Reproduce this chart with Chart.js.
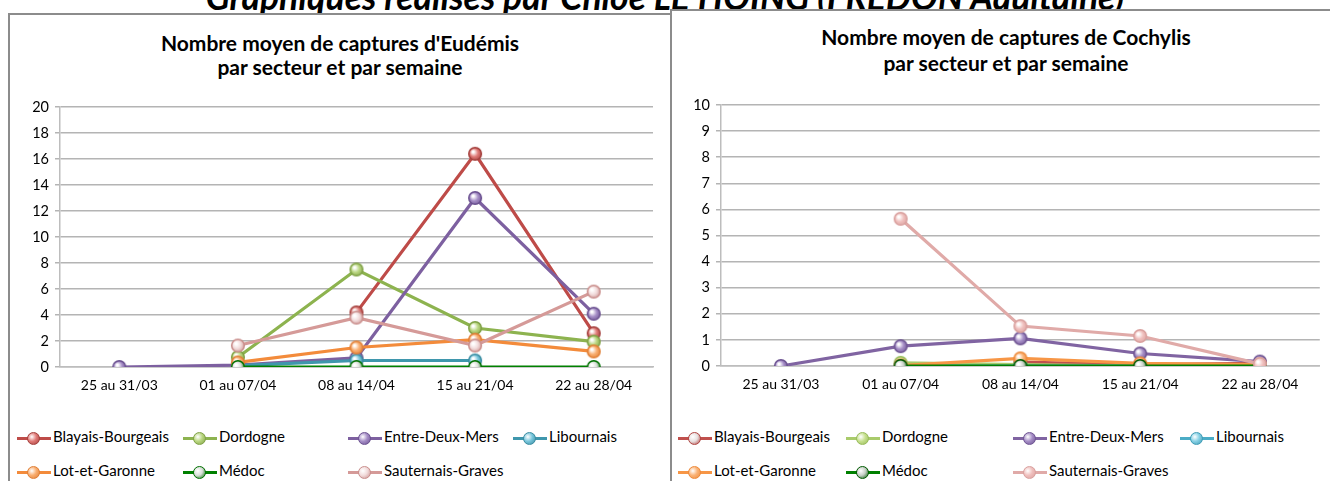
<!DOCTYPE html>
<html>
<head>
<meta charset="utf-8">
<script src="https://cdn.jsdelivr.net/npm/chart.js@4.4.0/dist/chart.umd.min.js"></script>
<style>
  html, body { margin: 0; padding: 0; background: #fff; }
  body { width: 1330px; height: 481px; position: relative; overflow: hidden; font-family: Lato, "Open Sans", sans-serif; color: #000; }
  #top { position: absolute; left: 0; width: 1330px; top: -25px; line-height: 35px; text-align: center; font: italic bold 35.5px Lato, sans-serif; white-space: nowrap; }
  .panel { position: absolute; border: 2px solid #8c8c8c; background: #fff; height: 480px; }
  .panel canvas { position: absolute; left: 0; top: 0; }
  .ttl { position: absolute; transform: translate(-50%, -50%); font: bold 21px Lato, sans-serif; white-space: nowrap; }
  .leg { position: absolute; height: 16px; font-size: 15px; white-space: nowrap; }
  .leg .ln { position: absolute; left: 0; top: 7px; width: 34px; height: 3px; }
  .leg .dot { position: absolute; left: 10px; top: 1.5px; width: 11px; height: 11px; border-radius: 50%; border: 1.5px solid; box-sizing: content-box; }
  .leg .tx { position: absolute; left: 36px; top: -3px; }
</style>
</head>
<body>
<div id="top">Graphiques réalisés par Chloé LE HOING (FREDON Aquitaine)</div>
<div class="panel" id="p1" style="left:8px; top:13px; width:664px;">
  <div class="ttl" style="left:330px; top:27px;">Nombre moyen de captures d'Eudémis</div>
  <div class="ttl" style="left:330px; top:51px;">par secteur et par semaine</div>
  <canvas id="c1"></canvas>
</div>
<div class="panel" id="p2" style="left:670px; top:9px; width:662px;">
  <div class="ttl" style="left:334px; top:25px;">Nombre moyen de captures de Cochylis</div>
  <div class="ttl" style="left:334px; top:51px;">par secteur et par semaine</div>
  <canvas id="c2"></canvas>
</div>
<script>
// ---- data ----
const weeks = ['25 au 31/03', '01 au 07/04', '08 au 14/04', '15 au 21/04', '22 au 28/04'];
const sectors = ['Blayais-Bourgeais', 'Dordogne', 'Entre-Deux-Mers', 'Libournais', 'Lot-et-Garonne', 'Médoc', 'Sauternais-Graves'];

// Eudémis
const eudBlayais = [null, null, 4.2, 16.4, 2.6];
const eudDordogne = [null, 0.75, 7.5, 3.0, 1.95];
const eudEntreDeuxMers = [0, 0.15, 0.7, 13.0, 4.1];
const eudLibournais = [null, 0.1, 0.5, 0.5, null];
const eudLotEtGaronne = [null, 0.35, 1.5, 2.1, 1.2];
const eudMedoc = [null, 0, 0, 0, 0];
const eudSauternais = [null, 1.65, 3.8, 1.65, 5.8];

// Cochylis
const cocBlayais = [null, null, 0.15, 0.05, 0.1];
const cocDordogne = [null, 0.12, 0.05, 0, 0];
const cocEntreDeuxMers = [0, 0.76, 1.06, 0.48, 0.17];
const cocLibournais = [null, 0, 0, 0, null];
const cocLotEtGaronne = [null, 0.02, 0.29, 0.1, 0.05];
const cocMedoc = [null, 0, 0, 0, 0];
const cocSauternais = [null, 5.64, 1.53, 1.15, 0.08];

const eudTicks = [0, 2, 4, 6, 8, 10, 12, 14, 16, 18, 20];
const cocTicks = [0, 1, 2, 3, 4, 5, 6, 7, 8, 9, 10];

// ---- styles (Excel 2007 palette) ----
// [line, marker border, marker fill]
const styleEud = [
  ['#BE4B48', '#A33F3C', '#E07A77'],
  ['#8DB34F', '#7FA146', '#B9D680'],
  ['#7D60A0', '#6B5190', '#A58DC6'],
  ['#3F97AD', '#3A8CA1', '#78C6DC'],
  ['#F38B3B', '#E07F36', '#F9AE70'],
  ['#008000', '#007000', '#D8DED8'],
  ['#D59A98', '#C98E8C', '#F2DCDC'],
];
const styleCoc = [
  ['#C0504D', '#B04542', '#E8E0E0'],
  ['#A9CB6B', '#98BB5A', '#C6E08E'],
  ['#8064A2', '#6E5492', '#A58DC6'],
  ['#4BACC6', '#3F9CB6', '#86D0E4'],
  ['#F79646', '#EE8A3A', '#FAB377'],
  ['#008000', '#005a00', '#C8D0C8'],
  ['#E0AAA8', '#D9A09E', '#F0C0BE'],
];

function makeMarker(fill, stroke) {
  const c = document.createElement('canvas');
  c.width = 16; c.height = 16;
  const g = c.getContext('2d');
  const grad = g.createRadialGradient(6, 6, 1, 8, 8, 8);
  grad.addColorStop(0, '#ffffff');
  grad.addColorStop(0.45, fill);
  grad.addColorStop(1, stroke);
  g.beginPath();
  g.arc(8, 8, 6.3, 0, Math.PI * 2);
  g.fillStyle = grad;
  g.fill();
  g.lineWidth = 1.5;
  g.strokeStyle = stroke;
  g.stroke();
  return c;
}

function buildDatasets(series, styles) {
  return series.map((data, i) => ({
    label: sectors[i],
    data: data,
    borderColor: styles[i][0],
    borderWidth: 3.2,
    pointStyle: makeMarker(styles[i][2], styles[i][1]),
    pointRadius: 7,
    order: sectors.length - i, // later series drawn on top, like Excel
  }));
}

function makeChart(canvasId, width, height, datasets, ticks, area) {
  const cv = document.getElementById(canvasId);
  cv.width = width; cv.height = height;
  cv.style.width = width + 'px'; cv.style.height = height + 'px';
  return new Chart(cv.getContext('2d'), {
    type: 'line',
    data: { labels: weeks, datasets: datasets },
    options: {
      responsive: false,
      animation: false,
      devicePixelRatio: 1,
      layout: { padding: { top: area.top, right: width - area.right, left: 0, bottom: 0 } },
      plugins: { legend: { display: false }, tooltip: { enabled: false }, title: { display: false } },
      scales: {
        x: {
          type: 'category',
          offset: true,
          grid: { display: false, drawTicks: false },
          border: { color: '#bdbdbd', width: 1.5 },
          ticks: { color: '#000', font: { family: 'Lato', size: 14 }, padding: 10, maxRotation: 0 },
          afterFit: (s) => { s.height = height - area.bottom; },
        },
        y: {
          min: ticks[0],
          max: ticks[ticks.length - 1],
          afterBuildTicks: (s) => { s.ticks = ticks.map(v => ({ value: v })); },
          grid: { color: '#b4b4b4', lineWidth: 1.5, tickLength: 5 },
          border: { color: '#bdbdbd', width: 1.5 },
          ticks: { color: '#000', font: { family: 'Lato', size: 14.5 }, padding: 6 },
          afterFit: (s) => { s.width = area.left; },
        },
      },
    },
  });
}

function makeLegend(panelId, styles, cols, rows) {
  const p = document.getElementById(panelId);
  sectors.forEach((name, i) => {
    const d = document.createElement('div');
    d.className = 'leg';
    d.style.left = cols[i % 4] + 'px';
    d.style.top = rows[Math.floor(i / 4)] + 'px';
    d.innerHTML = '<div class="ln"></div><div class="dot"></div><div class="tx"></div>';
    d.querySelector('.ln').style.background = styles[i][0];
    const dot = d.querySelector('.dot');
    dot.style.borderColor = styles[i][1];
    dot.style.background = 'radial-gradient(circle at 35% 35%, #fff 0%, ' + styles[i][2] + ' 45%, ' + styles[i][1] + ' 100%)';
    d.querySelector('.tx').textContent = name;
    p.appendChild(d);
  });
}

makeChart('c1', 658, 392,
  buildDatasets([eudBlayais, eudDordogne, eudEntreDeuxMers, eudLibournais, eudLotEtGaronne, eudMedoc, eudSauternais], styleEud),
  eudTicks, { left: 50, right: 643, top: 92, bottom: 352 });
makeChart('c2', 658, 392,
  buildDatasets([cocBlayais, cocDordogne, cocEntreDeuxMers, cocLibournais, cocLotEtGaronne, cocMedoc, cocSauternais], styleCoc),
  cocTicks, { left: 49, right: 650, top: 94, bottom: 355 });

makeLegend('p1', styleEud, [7, 173, 338, 503], [415, 449]);
makeLegend('p2', styleCoc, [6, 174, 341, 508], [419, 453]);
</script>
</body>
</html>
